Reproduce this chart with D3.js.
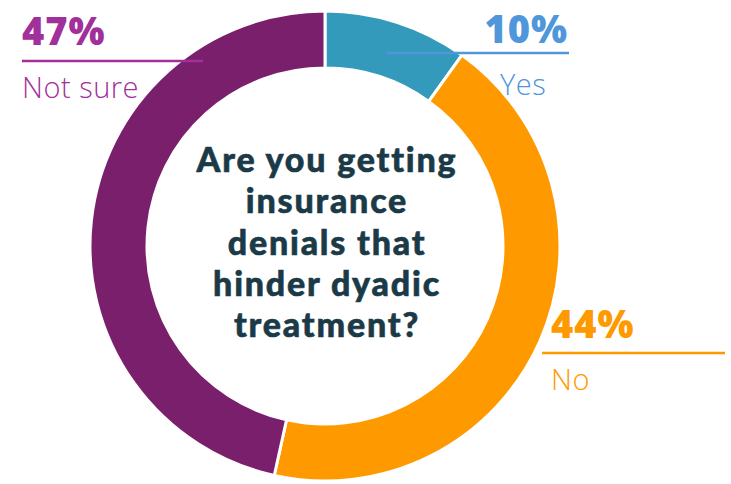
<!DOCTYPE html>
<html>
<head>
<meta charset="utf-8">
<script src="https://cdn.jsdelivr.net/npm/d3@7"></script>
<style>
  html, body { margin: 0; padding: 0; background: #fff; }
  svg { display: block; }
</style>
</head>
<body>
<svg id="chart" width="731" height="484"></svg>
<script>
// Survey answers, clockwise from 12 o'clock
const categories = ["Yes", "No", "Not sure"];
const values = [10, 44, 47];
const sliceColors = ["#349ABB", "#FF9900", "#7A1F6B"];
const labelColors = ["#4F96DB", "#FF9900", "#A1309B"];
const questionLines = ["Are you getting", "insurance", "denials that", "hinder dyadic", "treatment?"];

const width = 731, height = 484;
const cx = 325, cy = 246;
const outerR = 235, innerR = 178;
const labelFont = "'Open Sans', Lato, sans-serif";
const titleFont = "Lato, 'Open Sans', sans-serif";

const svg = d3.select("#chart");
const g = svg.append("g").attr("transform", `translate(${cx},${cy})`);

const pie = d3.pie().sort(null).value(d => d.value);
const arc = d3.arc().innerRadius(innerR).outerRadius(outerR);
const data = categories.map((c, i) => ({ name: c, value: values[i], i }));
const arcs = pie(data);

g.selectAll("path.slice")
  .data(arcs)
  .join("path")
  .attr("class", "slice")
  .attr("d", arc)
  .attr("fill", d => sliceColors[d.data.i])
  .attr("stroke", "#fff")
  .attr("stroke-width", 3)
  .attr("stroke-linejoin", "miter");

// Callout layout for each answer: percentage, rule line, answer text
const callouts = [
  { anchor: "end",   x: 568, pctY: 43,  lineY: 53,  lineX0: 387, lineX1: 569, nameX: 500, nameY: 95 },
  { anchor: "start", x: 551, pctY: 338, lineY: 353, lineX0: 542, lineX1: 725, nameX: 551, nameY: 390 },
  { anchor: "start", x: 22,  pctY: 45,  lineY: 61,  lineX0: 22,  lineX1: 203, nameX: 22,  nameY: 98 }
];

const lab = svg.append("g");
callouts.forEach((c, i) => {
  lab.append("line")
    .attr("x1", c.lineX0).attr("x2", c.lineX1)
    .attr("y1", c.lineY).attr("y2", c.lineY)
    .attr("stroke", labelColors[i])
    .attr("stroke-width", 2.5);
  lab.append("text")
    .attr("x", c.x).attr("y", c.pctY)
    .attr("text-anchor", c.anchor)
    .attr("font-family", labelFont)
    .attr("font-weight", 800)
    .attr("font-size", 38)
    .attr("letter-spacing", 1)
    .attr("fill", labelColors[i])
    .text(values[i] + "%");
  lab.append("text")
    .attr("x", c.nameX).attr("y", c.nameY)
    .attr("text-anchor", "start")
    .attr("font-family", labelFont)
    .attr("font-weight", 300)
    .attr("font-size", 29)
    .attr("letter-spacing", 0.5)
    .attr("fill", labelColors[i])
    .text(categories[i]);
});

// Question in the middle of the ring, one text per line
svg.append("g")
  .selectAll("text")
  .data(questionLines)
  .join("text")
  .attr("x", cx + 2)
  .attr("y", (d, i) => 172 + i * 41.3)
  .attr("text-anchor", "middle")
  .attr("font-family", titleFont)
  .attr("font-weight", 900)
  .attr("font-size", 34)
  .attr("letter-spacing", 1.8)
  .attr("fill", "#1B3A47")
  .attr("stroke", "#1B3A47")
  .attr("stroke-width", 0.6)
  .text(d => d);
</script>
</body>
</html>
